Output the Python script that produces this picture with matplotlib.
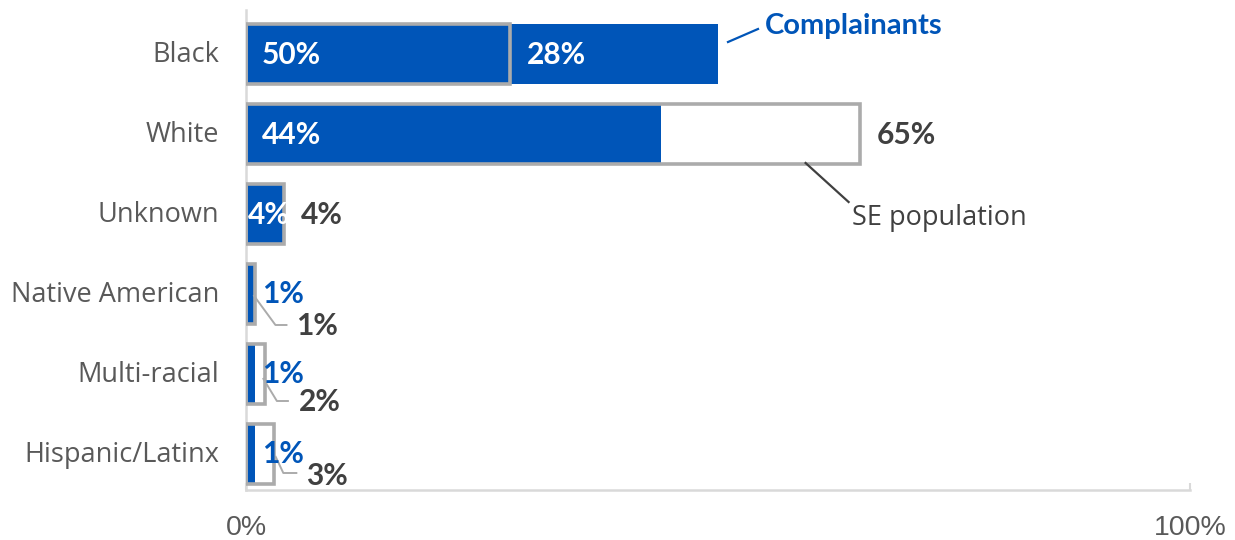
import matplotlib
matplotlib.use("Agg")
import matplotlib.pyplot as plt
from matplotlib.transforms import ScaledTranslation

categories = ["Black", "White", "Unknown", "Native American", "Multi-racial", "Hispanic/Latinx"]
complainants = [50, 44, 4, 1, 1, 1]
se_population = [28, 65, 4, 1, 2, 3]
x_ticks = [0, 100]
x_tick_labels = ["0%", "100%"]

BLUE = "#0055B8"
GREY_EDGE = "#ABABAB"
DARK = "#404040"
CAT_GREY = "#595959"
SPINE = "#D9D9D9"

FONT = "Open Sans"
BOLD_FONT = "Lato"
TICK_FONT = "Liberation Sans"
VAL_SIZE = 21.5

DPI = 100
fig = plt.figure(figsize=(12.35, 5.4), dpi=DPI)
ax = fig.add_axes([246 / 1235, 1 - 490 / 540, (1190 - 246) / 1235, 480 / 540])

rows = list(range(len(categories)))
bar_h = 0.76

ax.barh(rows, complainants, height=bar_h, color=BLUE, zorder=2)
ax.barh(rows, se_population, height=bar_h, facecolor="none",
        edgecolor=GREY_EDGE, linewidth=2.6, zorder=3)

ax.set_xlim(0, 100)
ax.set_ylim(len(categories) - 0.55, -0.55)


def px(dx, dy):
    """Data transform shifted by (dx, dy) pixels, dy measured downward."""
    return ax.transData + ScaledTranslation(dx / DPI, -dy / DPI, fig.dpi_scale_trans)


# Category labels
for r, name in enumerate(categories):
    ax.text(0, r, name, transform=px(-27, 8), ha="right", va="baseline",
            fontsize=19.5, color=CAT_GREY, family=FONT)

# Complainant value labels
comp_style = [
    (16, 10, "white"),
    (16, 10, "white"),
    (2, 10, "white"),
    (16, 9, BLUE),
    (16, 9, BLUE),
    (16, 9, BLUE),
]
for r, (v, (dx, dy, col)) in enumerate(zip(complainants, comp_style)):
    ax.text(0, r, f"{v}%", transform=px(dx, dy), ha="left", va="baseline",
            fontsize=VAL_SIZE, fontweight="bold", color=col, family=BOLD_FONT,
            zorder=5)

# SE population value labels placed just past the outlined bar
pop_text_color = ["white", DARK, DARK]
for r in range(3):
    v = se_population[r]
    ax.text(v, r, f"{v}%", transform=px(17, 10), ha="left", va="baseline",
            fontsize=VAL_SIZE, fontweight="bold", color=pop_text_color[r],
            family=BOLD_FONT, zorder=5)

# Small population values with elbow leader lines
leaders = {
    3: dict(start=(-2, 1), elbow=(20, 31), end=(32, 31), text=(41, 41)),
    4: dict(start=(-2, 4), elbow=(12, 27), end=(24, 27), text=(34, 37)),
    5: dict(start=(1, 2), elbow=(9, 19), end=(23, 19), text=(32, 31)),
}
for r, g in leaders.items():
    v = se_population[r]
    xs, ys = [], []
    for key in ("start", "elbow", "end"):
        dx, dy = g[key]
        pt = px(dx, dy).transform((v, r))
        inv = ax.transData.inverted().transform(pt)
        xs.append(inv[0])
        ys.append(inv[1])
    ax.plot(xs, ys, color=GREY_EDGE, lw=1.4, zorder=4, solid_capstyle="butt",
            clip_on=False)
    ax.text(v, r, f"{v}%", transform=px(*g["text"]), ha="left", va="baseline",
            fontsize=VAL_SIZE, fontweight="bold", color=DARK, family=BOLD_FONT,
            zorder=5)


def seg(anchor, p0, p1, color, lw):
    a = ax.transData.inverted()
    q0 = a.transform(px(*p0).transform(anchor))
    q1 = a.transform(px(*p1).transform(anchor))
    ax.plot([q0[0], q1[0]], [q0[1], q1[1]], color=color, lw=lw, zorder=4,
            clip_on=False)


# Series call-outs
seg((complainants[0], 0), (10, -12), (40, -25), BLUE, 1.6)
ax.text(complainants[0], 0, "Complainants", transform=px(47, -20), ha="left",
        va="baseline", fontsize=21, fontweight="bold", color=BLUE,
        family=BOLD_FONT)

seg((se_population[1], 1), (-54, 29), (-11, 68), DARK, 1.6)
ax.text(se_population[1], 1, "SE population", transform=px(-8, 91), ha="left",
        va="baseline", fontsize=19.5, color=DARK, family=FONT)

# Axes styling
ax.set_yticks([])
ax.set_xticks(x_ticks)
ax.set_xticklabels(x_tick_labels, family=TICK_FONT, fontsize=20.5, color=CAT_GREY)
ax.tick_params(axis="x", direction="in", length=5, width=1.5, color=SPINE, pad=18)
for side in ("top", "right"):
    ax.spines[side].set_visible(False)
for side in ("left", "bottom"):
    ax.spines[side].set_color(SPINE)
    ax.spines[side].set_linewidth(1.8)

fig.savefig("out.png", dpi=DPI)
